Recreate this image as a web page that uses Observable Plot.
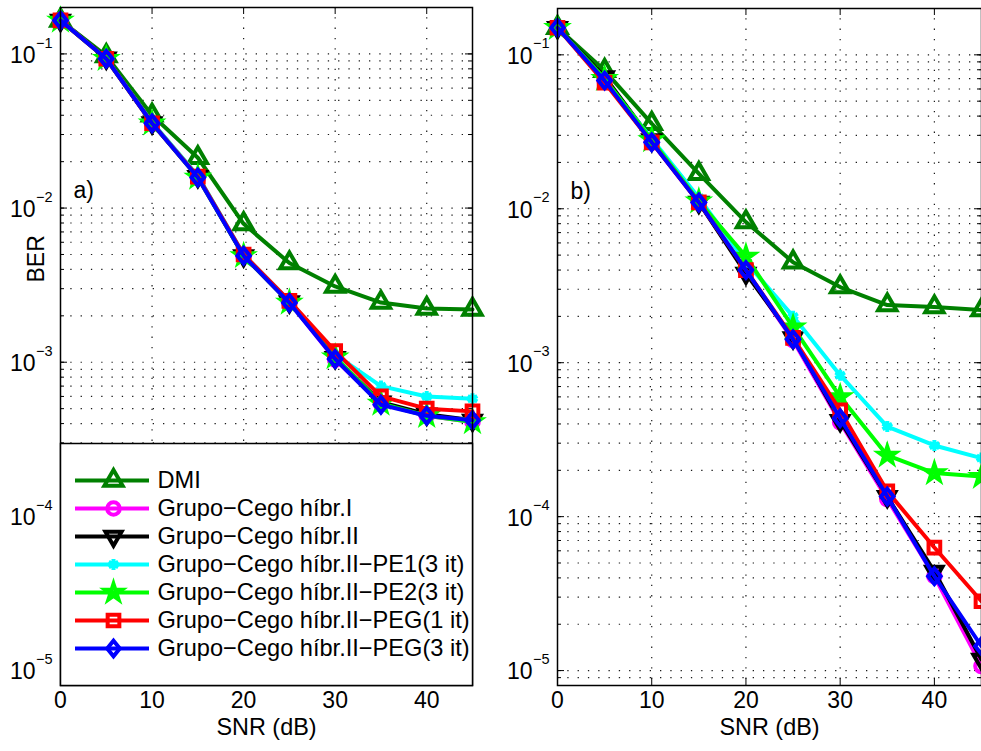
<!DOCTYPE html>
<html><head><meta charset="utf-8">
<script src="https://cdn.jsdelivr.net/npm/d3@7"></script>
<script src="https://cdn.jsdelivr.net/npm/@observablehq/plot@0.6"></script>
<style>
html,body{margin:0;padding:0;background:#fff;}
#fig{position:relative;width:981px;height:751px;overflow:hidden;background:#fff;font-family:"Liberation Sans",Arial,Helvetica,sans-serif;}
#fig > svg{position:absolute;}
</style></head><body><div id="fig"></div>
<script>
// ---------- data ----------
const SNR = [0, 5, 10, 15, 20, 25, 30, 35, 40, 45];
const seriesNames = ["DMI", "Grupo−Cego híbr.I", "Grupo−Cego híbr.II", "Grupo−Cego híbr.II−PE1(3 it)", "Grupo−Cego híbr.II−PE2(3 it)", "Grupo−Cego híbr.II−PEG(1 it)", "Grupo−Cego híbr.II−PEG(3 it)"];
const seriesColors = ["#008000", "#ff00ff", "#000000", "#00ffff", "#00ff00", "#ff0000", "#0000ff"];

// panel a)
const a_DMI   = [0.165, 0.097, 0.040, 0.0212, 0.0079, 0.0044, 0.0031, 0.00244, 0.00223, 0.0022];
const a_hibrI = [0.165, 0.093, 0.0355, 0.0158, 0.0049, 0.00244, 0.00104, 0.00054, 0.00045, 0.00041];
const a_hibrII= [0.165, 0.094, 0.0357, 0.0160, 0.0049, 0.00246, 0.00107, 0.00055, 0.00046, 0.00042];
const a_PE1   = [0.165, 0.093, 0.0360, 0.0162, 0.0050, 0.00250, 0.00112, 0.00070, 0.00060, 0.00058];
const a_PE2   = [0.165, 0.093, 0.0355, 0.0158, 0.0049, 0.00244, 0.00108, 0.00054, 0.00045, 0.00041];
const a_PEG1  = [0.165, 0.093, 0.0355, 0.0160, 0.0050, 0.00250, 0.00118, 0.00060, 0.00050, 0.00048];
const a_PEG3  = [0.165, 0.093, 0.0355, 0.0158, 0.0049, 0.00243, 0.00105, 0.00053, 0.00045, 0.00042];

// panel b)
const b_DMI   = [0.150, 0.079, 0.0357, 0.0169, 0.0082, 0.0045, 0.0031, 0.00237, 0.0023, 0.0022];
const b_hibrI = [0.150, 0.068, 0.027, 0.0110, 0.0039, 0.00140, 0.00041, 0.000130, 0.0000410, 0.0000107];
const b_hibrII= [0.150, 0.072, 0.028, 0.0110, 0.0038, 0.00145, 0.00042, 0.000135, 0.0000440, 0.0000118];
const b_PE1   = [0.150, 0.068, 0.0285, 0.0118, 0.0045, 0.00200, 0.00083, 0.000385, 0.000290, 0.000240];
const b_PE2   = [0.150, 0.070, 0.028, 0.0112, 0.0049, 0.00170, 0.00060, 0.000250, 0.000192, 0.000182];
const b_PEG1  = [0.150, 0.066, 0.027, 0.0110, 0.0040, 0.00145, 0.00049, 0.000146, 0.0000630, 0.0000282];
const b_PEG3  = [0.150, 0.068, 0.027, 0.0110, 0.0040, 0.00142, 0.000436, 0.000135, 0.0000410, 0.0000144];

// axes ticks / labels
const xTicks = [0, 10, 20, 30, 40];
const xGrid = [10, 20, 30, 40];
const yDecades = [1e-5, 1e-4, 1e-3, 1e-2, 1e-1];
const yTickBase = "10";
const yTickExp = ["−5", "−4", "−3", "−2", "−1"];
const yDomain = [8e-6, 0.2];
const xDomain = [0, 45];
const xLabel = "SNR (dB)";
const yLabel = "BER";
const panelLabels = ["a)", "b)"];

// ---------- styling ----------
const FONT = "Liberation Sans, Arial, Helvetica, sans-serif";
const FS = 23;
const sqrt3 = Math.sqrt(3);
const triangleDown = {
  draw(context, size) {
    const y = -Math.sqrt(size / (sqrt3 * 3));
    context.moveTo(0, -y * 2);
    context.lineTo(-sqrt3 * y, y);
    context.lineTo(sqrt3 * y, y);
    context.closePath();
  }
};
const diamondM = {
  draw(context, size) {
    const s = Math.sqrt(size / Math.PI);
    const h = 1.3 * s, w = 1.05 * s;
    context.moveTo(0, -h);
    context.lineTo(w, 0);
    context.lineTo(0, h);
    context.lineTo(-w, 0);
    context.closePath();
  }
};
const seriesSymbols = ["triangle", "circle", triangleDown, "asterisk", "star", "square", diamondM];
const seriesR = [6.8, 6.3, 6, 5.2, 5.2, 6.6, 6];
const LW = 4;
const MSW = 4;
const HEIGHT = 751, MB = 66;

const yMinor = [];
for (let k = -6; k <= 0; k++) for (let m = 1; m <= 9; m++) {
  const v = m * Math.pow(10, k);
  if (v >= yDomain[0] && v <= yDomain[1]) yMinor.push(v);
}

function rows(arr) { return SNR.map((x, i) => ({x, y: arr[i]})); }

function panel(seriesArrs, {width, marginLeft, marginRight, marginTop, label, showYLabel}) {
  const plotW = width - marginLeft - marginRight;
  const plotH = HEIGHT - marginTop - MB;
  const decadePx = plotH / Math.log10(yDomain[1] / yDomain[0]);
  const pxX = px => px * (xDomain[1] - xDomain[0]) / plotW;   // pixels -> x units
  const yUp = (v, px) => v * Math.pow(10, px / decadePx);
  const yDown = (v, px) => v / Math.pow(10, px / decadePx);
  const dotted = {stroke: "#000", strokeOpacity: 0.9, strokeWidth: 1.2, strokeDasharray: "1.3,9"};
  const marks = [
    Plot.ruleY(yMinor, {y: d => d, ...dotted}),
    Plot.ruleX(xGrid, {x: d => d, ...dotted}),
    // inward ticks
    Plot.ruleY(yMinor, {y: d => d, x1: xDomain[0], x2: xDomain[0] + pxX(4), stroke: "#000"}),
    Plot.ruleY(yMinor, {y: d => d, x1: xDomain[1] - pxX(4), x2: xDomain[1], stroke: "#000"}),
    Plot.ruleY(yDecades, {y: d => d, x1: xDomain[0], x2: xDomain[0] + pxX(7), stroke: "#000"}),
    Plot.ruleY(yDecades, {y: d => d, x1: xDomain[1] - pxX(7), x2: xDomain[1], stroke: "#000"}),
    Plot.ruleX(xTicks, {x: d => d, y1: yDomain[0], y2: yUp(yDomain[0], 7), stroke: "#000"}),
    Plot.ruleX(xTicks, {x: d => d, y1: yDown(yDomain[1], 7), y2: yDomain[1], stroke: "#000"}),
    // tick labels
    Plot.text(xTicks, {x: d => d, text: d => String(d), frameAnchor: "bottom", dy: 22, fontSize: FS, fill: "#000"}),
    Plot.text(yDecades, {y: d => d, text: () => yTickBase, frameAnchor: "left", textAnchor: "end", dx: -25, dy: 1.5, fontSize: FS, fill: "#000"}),
    Plot.text(yDecades, {y: d => d, text: (d, i) => yTickExp[i], frameAnchor: "left", textAnchor: "start", dx: -24.5, dy: -11, fontSize: 14.5, fill: "#000"}),
    Plot.text([xLabel], {text: d => d, frameAnchor: "bottom", dy: 49, fontSize: 23.4, fill: "#000"}),
    Plot.text([label], {text: d => d, frameAnchor: "top-left", textAnchor: "start", dx: 13, dy: 174, fontSize: FS, fill: "#000"})
  ];
  if (showYLabel) marks.push(Plot.text([yLabel], {text: d => d, frameAnchor: "left", rotate: -90, dx: -24, dy: -64, fontSize: FS, fill: "#000"}));
  seriesArrs.forEach((arr, i) => {
    const d = rows(arr);
    marks.push(Plot.line(d, {x: "x", y: "y", stroke: seriesColors[i], strokeWidth: LW, strokeLinejoin: "miter"}));
    marks.push(Plot.dot(d, {x: "x", y: "y", symbol: seriesSymbols[i], r: seriesR[i], stroke: seriesColors[i], fill: "none", strokeWidth: MSW}));
  });
  marks.push(Plot.frame({stroke: "#000", strokeWidth: 1.5}));
  return Plot.plot({
    width, height: HEIGHT, marginLeft, marginRight, marginTop, marginBottom: MB,
    x: {domain: xDomain, axis: null},
    y: {type: "log", domain: yDomain, axis: null},
    style: {background: "transparent", fontFamily: FONT, overflow: "visible"},
    marks
  });
}

const fig = document.getElementById("fig");

const left = panel([a_DMI, a_hibrI, a_hibrII, a_PE1, a_PE2, a_PEG1, a_PEG3],
  {width: 490, marginLeft: 60, marginRight: 18, marginTop: 7, label: panelLabels[0], showYLabel: true});
left.style.left = "0px"; left.style.top = "0px";

const right = panel([b_DMI, b_hibrI, b_hibrII, b_PE1, b_PE2, b_PEG1, b_PEG3],
  {width: 491, marginLeft: 67, marginRight: 0, marginTop: 8, label: panelLabels[1], showYLabel: false});
right.style.left = "490px"; right.style.top = "0px";

// legend (inside panel a)
const legendMarks = [];
seriesNames.forEach((name, i) => {
  legendMarks.push(Plot.ruleY([name], {y: d => d, x1: 15, x2: 89, stroke: seriesColors[i], strokeWidth: LW}));
  legendMarks.push(Plot.dot([name], {y: d => d, x: 53, symbol: seriesSymbols[i], r: seriesR[i], stroke: seriesColors[i], fill: "none", strokeWidth: MSW}));
  legendMarks.push(Plot.text([name], {y: d => d, x: 97, text: d => d, textAnchor: "start", fontSize: 23.6, fill: "#000"}));
});
legendMarks.push(Plot.frame({stroke: "#000", strokeWidth: 1.5}));
const legend = Plot.plot({
  width: 412, height: 242, margin: 0,
  x: {domain: [0, 412], range: [0, 412], axis: null},
  y: {type: "point", domain: seriesNames, range: [20, 222], axis: null},
  style: {background: "#fff", fontFamily: FONT, overflow: "visible"},
  marks: legendMarks
});
legend.style.left = "60px"; legend.style.top = "443px";

fig.appendChild(left);
fig.appendChild(right);
fig.appendChild(legend);
</script></body></html>
